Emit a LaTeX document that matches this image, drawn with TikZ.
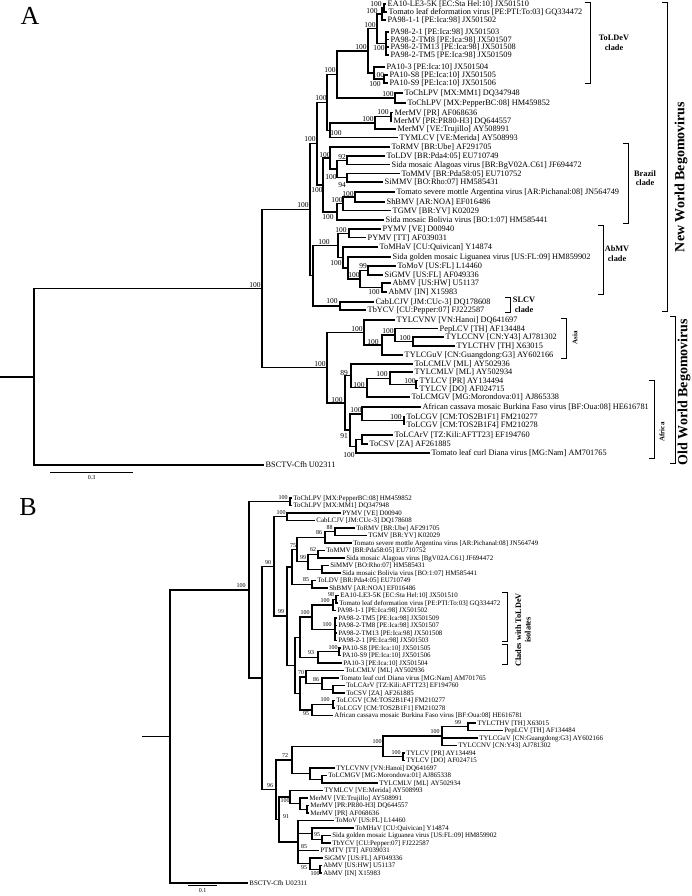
\documentclass[tikz,border=0pt]{standalone}
\usepackage{fontspec}
\setmainfont{Liberation Serif}
\usepackage{tikz}
\tikzset{
  brA/.style={line width=1.35pt, draw=black},
  brB/.style={line width=1.35pt, draw=black},
  tipA/.style={anchor=west, inner sep=1.5pt, font=\fontsize{8.3}{9}\selectfont,
               text height=5.5pt, text depth=0pt},
  tipB/.style={anchor=west, inner sep=1.2pt, font=\fontsize{6.9}{7.5}\selectfont,
               text height=4.6pt, text depth=0pt},
  bsA/.style={inner sep=0pt, font=\fontsize{7.5}{8}\selectfont},
  bsB/.style={inner sep=0pt, font=\fontsize{6}{6.5}\selectfont},
  brack/.style={line width=0.8pt},
  cladelbl/.style={align=center, inner sep=0pt, font=\bfseries\fontsize{8.3}{9.5}\selectfont},
  smalllbl/.style={rotate=90, inner sep=0pt, font=\bfseries\fontsize{7}{8}\selectfont},
  grouplbl/.style={rotate=90, inner sep=0pt, font=\bfseries\fontsize{14}{16}\selectfont},
  panel/.style={inner sep=0pt, font=\fontsize{26}{26}\selectfont},
  scl/.style={inner sep=0pt, font=\fontsize{6}{6}\selectfont},
}

\begin{document}
\begin{tikzpicture}[x=1pt, y=-1pt]
\useasboundingbox (0,0) rectangle (691,896);

\node[panel] (panA) at (30,15.5) {A};
\node[panel] (panB) at (28,507) {B};

% ---- tree A: leaves
\foreach \nm/\xx/\yy/\lbl in {
  ea10/386/4/EA10-LE3-5K [EC:Sta Hel:10] JX501510,
  tldv/387/12/Tomato leaf deformation virus [PE:PTI:To:03] GQ334472,
  pa9811/386/20/PA98-1-1 [PE:Ica:98] JX501502,
  pa9821/389/32/PA98-2-1 [PE:Ica:98] JX501503,
  tm8/389/39.5/PA98-2-TM8 [PE:Ica:98] JX501507,
  tm13/389/47/PA98-2-TM13 [PE:Ica:98] JX501508,
  tm5/389/55/PA98-2-TM5 [PE:Ica:98] JX501509,
  pa103/385/67/PA10-3 [PE:Ica:10] JX501504,
  s8/388/75/PA10-S8 [PE:Ica:10] JX501505,
  s9/388/83/PA10-S9 [PE:Ica:10] JX501506,
  chMM/403/93/ToChLPV [MX:MM1] DQ347948,
  chPB/406/103/ToChLPV [MX:PepperBC:08] HM459852,
  merPR/393/112.5/MerMV [PR] AF068636,
  merP8/392/121/MerMV [PR:PR80-H3] DQ644557,
  merVE/396/129/MerMV [VE:Trujillo] AY508991,
  tymlcv/398/137.5/TYMLCV [VE:Merida] AY508993,
  tormv/390/147/ToRMV [BR:Ube] AF291705,
  toldv/385/156/ToLDV [BR:Pda4:05] EU710749,
  simoav/390/164.5/Sida mosaic Alagoas virus [BR:BgV02A.C61] JF694472,
  tommv/400/173.5/ToMMV [BR:Pda58:05] EU710752,
  simmv/383/182/SiMMV [BO:Rho:07] HM585431,
  tsmav/395/192/Tomato severe mottle Argentina virus [AR:Pichanal:08] JN564749,
  shbmv/385/202/ShBMV [AR:NOA] EF016486,
  tgmv/391/210.5/TGMV [BR:YV] K02029,
  simbov/384/220/Sida mosaic Bolivia virus [BO:1:07] HM585441,
  pyVE/381/229/PYMV [VE] D00940,
  pyTT/366/237.5/PYMV [TT] AF039031,
  tomhav/378/247/ToMHaV [CU:Quivican] Y14874,
  sigmlv/391/257/Sida golden mosaic Liguanea virus [US:FL:09] HM859902,
  tomov/396/266/ToMoV [US:FL] L14460,
  sigmv/383/275/SiGMV [US:FL] AF049336,
  abHW/391/283/AbMV [US:HW] U51137,
  abIN/387/292/AbMV [IN] X15983,
  cab/374/302/CabLCJV [JM:CUc-3] DQ178608,
  tbycv/366/310/TbYCV [CU:Pepper:07] FJ222587,
  vnA/395/320/TYLCVNV [VN:Hanoi] DQ641697,
  pepA/438/328.5/PepLCV [TH] AF134484,
  cnA/444/337/TYLCCNV [CN:Y43] AJ781302,
  thA/455/346/TYLCTHV [TH] X63015,
  guA/403/355/TYLCGuV [CN:Guangdong:G3] AY602166,
  tolcmlvA/413/364/ToLCMLV [ML] AY502936,
  tylcmlvA/413/372/TYLCMLV [ML] AY502934,
  tyPR/418/380.5/TYLCV [PR] AY134494,
  tyDO/418/388.5/TYLCV [DO] AF024715,
  mgA/410/397/ToLCMGV [MG:Morondova:01] AJ865338,
  acmA/421/407/African cassava mosaic Burkina Faso virus [BF:Oua:08] HE616781,
  gv1A/405/417/ToLCGV [CM:TOS2B1F1] FM210277,
  gv4A/405/424.5/ToLCGV [CM:TOS2B1F4] FM210278,
  arA/393/435/ToLCArV [TZ:Kili:AFTT23] EF194760,
  csA/368/444/ToCSV [ZA] AF261885,
  diA/430/453/Tomato leaf curl Diana virus [MG:Nam] AM701765,
  bscA/264/465/BSCTV-Cfh U02311}
  \node[tipA] (\nm) at (\xx,\yy) {\lbl};

% ---- tree A: inner nodes
\foreach \nm/\xx/\yy in {
  stubA/0/376.85, rootA/34/376.85, ing/262/288.7, nw/310/209.65, u/317/143.6,
  v/327/102.3, ntc/337/74.4, c1/368/50.9, d1/377/28.75, nb/382/14, na/384/8,
  pa982/386/43.5, p10/374/73, p10a/384/79, toch/395/98, mt/330/130.2,
  mer/375/122.9, mpr/391/116.75, b0/323/184.95, b1/330/158, b2/337/169,
  b3/347/160.25, b4/347/177.75, s3/337/211.9, s2/343/203.75, s1/355/197,
  l/313/275.7, a0/338/245.4, pyn/349/233.25, a1/343/257.5, a2/348/268,
  a3/360/279, a4/368/270.5, a5/382/287.5, slcv/340/306, ow/327/367.7,
  asia/364/332.5, p/382/345, q/395/335, r/413/341.5, afr/345/402.95,
  a89/351/375.8, a100b/367/387.6, a100c/390/378.25, tyv/416/384.5,
  a91/350/430.1, g1/362/413.9, gv/404/420.75, g2/356/446.25, g3/362/439.5}
  \coordinate (\nm) at (\xx,\yy);

\draw[brA] (stubA) -- (rootA);
\foreach \pa/\ch in {
  rootA/ing, rootA/bscA, ing/nw, ing/ow, nw/u, nw/l, u/v, u/b0,
  v/ntc, v/mt, ntc/c1, ntc/toch, c1/d1, c1/p10, d1/nb, d1/pa982,
  nb/na, nb/pa9811, na/ea10, na/tldv,
  pa982/pa9821, pa982/tm8, pa982/tm13, pa982/tm5,
  p10/pa103, p10/p10a, p10a/s8, p10a/s9, toch/chMM, toch/chPB,
  mt/mer, mt/tymlcv, mer/mpr, mer/merVE, mpr/merPR, mpr/merP8,
  b0/b1, b0/s3, b1/tormv, b1/b2, b2/b3, b2/b4, b3/toldv, b3/simoav,
  b4/tommv, b4/simmv, s3/s2, s3/simbov, s2/s1, s2/tgmv, s1/tsmav, s1/shbmv,
  l/a0, l/slcv, a0/pyn, a0/a1, pyn/pyVE, pyn/pyTT, a1/tomhav, a1/a2,
  a2/sigmlv, a2/a3, a3/a4, a3/a5, a4/tomov, a4/sigmv, a5/abHW, a5/abIN,
  slcv/cab, slcv/tbycv,
  ow/asia, ow/afr, asia/vnA, asia/p, p/q, p/guA, q/pepA, q/r, r/cnA, r/thA,
  afr/a89, afr/a91, a89/tolcmlvA, a89/a100b, a100b/a100c, a100b/mgA,
  a100c/tylcmlvA, a100c/tyv, tyv/tyPR, tyv/tyDO,
  a91/g1, a91/g2, g1/acmA, g1/gv, gv/gv1A, gv/gv4A, g2/g3, g2/diA,
  g3/arA, g3/csA}
  \draw[brA] (\pa) |- (\ch);

% bootstrap values A
\foreach \nm/\xx/\yy/\lbl in {
  ing/255/285/100, nw/303/205.5/100, u/310/139.5/100, v/321/98.5/100,
  ntc/330/70.5/100, c1/361/47/100, d1/370/25/100, nb/372/11/100,
  na/376/4.5/100, pa982/379/48.5/100, p10a/378.5/75/100, p10/375/84.5/100,
  toch/388/94/100, mpr/383/112/100, mer/368/119/100, mt/336/133.5/100,
  b1/325/155/100, b2/331/177/100, b3/342/157/92, b4/342/185.5/94,
  b0/317/190/100, s1/348/194/100, s2/337/200/100, s3/328/217/100,
  pyn/341/230/100, a0/324/242/100, a1/336/263/100, a3/354/275.5/100,
  a4/363/266/99, a5/374/292/100, slcv/332/301/100,
  ow/320/364/100, asia/357/329/100, p/373/342/100, q/388/331/100,
  r/405/338/100, afr/337/400/100, a89/344/373/89, a100b/359/385/100,
  a100c/382/374.5/100, tyv/410/381/100, g1/356/410/100, gv/396/417/100,
  a91/344/436/91, g2/349/455/100}
  \node[bsA] (l\nm) at (\xx,\yy) {\lbl};

% clade brackets A
\draw[brack] (585,2) -- (590,2) -- (590,83) -- (585,83);
\node[cladelbl] (tldvclade) at (614,43) {ToLDeV\\clade};
\draw[brack] (623,143) -- (628,143) -- (628,223) -- (623,223);
\node[cladelbl] (brclade) at (645,178) {Brazil\\clade};
\draw[brack] (598,225) -- (603,225) -- (603,294) -- (598,294);
\node[cladelbl] (abclade) at (617,253.5) {AbMV\\clade};
\draw[brack] (505,297) -- (510,297) -- (510,312) -- (505,312);
\node[cladelbl] (slclade) at (524,305) {SLCV\\clade};
\draw[brack] (561,318) -- (566,318) -- (566,358) -- (561,358);
\node[smalllbl] (asiatxt) at (575,338) {Asia};
\draw[brack] (649,380) -- (654,380) -- (654,458) -- (649,458);
\node[smalllbl] (afrtxt) at (662,432) {Africa};
\draw[brack] (662,2) -- (667,2) -- (667,311) -- (662,311);
\node[grouplbl] (nwtxt) at (681,177) {New World Begomovirus};
\draw[brack] (670,316) -- (675,316) -- (675,463) -- (670,463);
\node[grouplbl] (owtxt) at (684,392) {Old World Begomovirus};

% scale A
\coordinate (sa1) at (50,472);
\coordinate (sa2) at (133,472);
\draw[line width=0.9pt] (sa1) -- (sa2);
\node[scl] (salbl) at (91.5,478) {0.3};

% ---- tree B: leaves
\foreach \nm/\xx/\yy/\lbl in {
  bchp/292/498/ToChLPV [MX:PepperBC:08] HM459852,
  bchm/292/505.5/ToChLPV [MX:MM1] DQ347948,
  bpy/341/513/PYMV [VE] D00940,
  bcab/315/520.5/CabLCJV [JM:CUc-3] DQ178608,
  brm/355/528/ToRMV [BR:Ube] AF291705,
  btg/367/535.5/TGMV [BR:YV] K02029,
  bts/352/543/Tomato severe mottle Argentina virus [AR:Pichanal:08] JN564749,
  bmm/325/550.5/ToMMV [BR:Pda58:05] EU710752,
  bsa/345/558/Sida mosaic Alagoas virus [BgV02A.C61] JF694472,
  bsm/329/565.5/SiMMV [BO:Rho:07] HM585431,
  bsb/341/573/Sida mosaic Bolivia virus [BO:1:07] HM585441,
  bld/316/580.5/ToLDV [BR:Pda4:05] EU710749,
  bsh/328/588/ShBMV [AR:NOA] EF016486,
  bea/339/595.5/EA10-LE3-5K [EC:Sta Hel:10] JX501510,
  btldv/338/603/Tomato leaf deformation virus [PE:PTI:To:03] GQ334472,
  b11/336/610.5/PA98-1-1 [PE:Ica:98] JX501502,
  bt5/337/618/PA98-2-TM5 [PE:Ica:98] JX501509,
  bt8/337/625.5/PA98-2-TM8 [PE:Ica:98] JX501507,
  bt13/337/633/PA98-2-TM13 [PE:Ica:98] JX501508,
  b21/337/640.5/PA98-2-1 [PE:Ica:98] JX501503,
  bs8/341/648/PA10-S8 [PE:Ica:10] JX501505,
  bs9/341/655.5/PA10-S9 [PE:Ica:10] JX501506,
  bp3/342/663/PA10-3 [PE:Ica:10] JX501504,
  bml/344/670.5/ToLCMLV [ML] AY502936,
  bdi/339/678/Tomato leaf curl Diana virus [MG:Nam] AM701765,
  bar/345/685.5/ToLCArV [TZ:Kili:AFTT23] EF194760,
  bcs/345/693/ToCSV [ZA] AF261885,
  bg4/335/700.5/ToLCGV [CM:TOS2B1F4] FM210277,
  bg1/335/708/ToLCGV [CM:TOS2B1F1] FM210278,
  bac/333/715.5/African cassava mosaic Burkina Faso virus [BF:Oua:08] HE616781,
  bth/476/723/TYLCTHV [TH] X63015,
  bpe/503/730.5/PepLCV [TH] AF134484,
  bgu/478/738/TYLCGuV [CN:Guangdong:G3] AY602166,
  bcn/457/745.5/TYLCCNV [CN:Y43] AJ781302,
  byp/405/753/TYLCV [PR] AY134494,
  byd/405/760.5/TYLCV [DO] AF024715,
  bvnv/335/768/TYLCVNV [VN:Hanoi] DQ641697,
  bmgv/327/775.5/ToLCMGV [MG:Morondova:01] AJ865338,
  bmlv/378/783/TYLCMLV [ML] AY502934,
  bty/323/790.5/TYMLCV [VE:Merida] AY508993,
  bve/308/798/MerMV [VE:Trujillo] AY508991,
  bp8/309/805.5/MerMV [PR:PR80-H3] DQ644557,
  bpr/309/813/MerMV [PR] AF068636,
  bmo/334/820.5/ToMoV [US:FL] L14460,
  bha/354/828/ToMHaV [CU:Quivican] Y14874,
  bsg/331/835.5/Sida golden mosaic Liguanea virus [US:FL:09] HM859902,
  bby/331/843/TbYCV [CU:Pepper:07] FJ222587,
  bpt/319/850.5/PTMTV [TT] AF039031,
  bsi/323/858/SiGMV [US:FL] AF049336,
  bhw/322/865.5/AbMV [US:HW] U51137,
  bin/322/873/AbMV [IN] X15983,
  bbs/248/883/BSCTV-Cfh U02311}
  \node[tipB] (\nm) at (\xx,\yy) {\lbl};

% ---- tree B: inner nodes
\foreach \nm/\xx/\yy in {
  BstubB/142/736.45, BrootB/170/736.45, BiB/249/589.9, BToch/290/501.75,
  Bj/262/678.1, Bk/274/566.4, BPC/287/516.75, Bm99/287/616.1, BBR/292/566.9,
  Bn75/297/549.6, Bn86/325/537.4, Bn88/335/531.75, Bn99b/308/561.75,
  Bn62/318/554.25, BnSi/322/569.25, Bn85/312/584.25, Btla/295/665.4,
  Bldv/300/637.25, Blc/312/617.1, Blb/333/604.9, Bla/336/599.25,
  Bpa982/335/629.25, Bp10/318/657.4, Bp10a/339/651.75, Bafr/300/693.5,
  Baf1/306/677.05, Bn86b/322/683.6, Barcs/333/689.25, Bn95c/312/709.9,
  Bgv/333/704.25, Bl96/276/789.8, Bn72/292/760, Bn100e/383/746.4,
  Bn100d/442/736.1, Bn99c/468/726.75, Btyv/403/756.75, Bvn/310/773.6,
  Bmg/322/779.25, Bn91/279/819.55, Bmg0/290/797.05, Bm1/300/803.6,
  Bmpr/307/809.25, Bn85b/298/842.05, Bx/312/833.6, Bn95a/322/839.25,
  Bn95b/310/863.6, Babp/320/869.25}
  \coordinate (\nm) at (\xx,\yy);

\draw[brB] (BstubB) -- (BrootB);
\foreach \pa/\ch in {
  BrootB/BiB, BrootB/bbs, BiB/BToch, BiB/Bj, BToch/bchp, BToch/bchm,
  Bj/Bk, Bj/Bl96, Bk/BPC, Bk/Bm99, BPC/bpy, BPC/bcab, Bm99/BBR, Bm99/Btla,
  BBR/Bn75, BBR/Bn85, Bn75/Bn86, Bn75/Bn99b, Bn86/Bn88, Bn86/bts,
  Bn88/brm, Bn88/btg, Bn99b/Bn62, Bn99b/BnSi, Bn62/bmm, Bn62/bsa,
  BnSi/bsm, BnSi/bsb, Bn85/bld, Bn85/bsh,
  Btla/Bldv, Btla/Bafr, Bldv/Blc, Bldv/Bp10, Blc/Blb, Blc/Bpa982,
  Blb/Bla, Blb/b11, Bla/bea, Bla/btldv,
  Bpa982/bt5, Bpa982/bt8, Bpa982/bt13, Bpa982/b21,
  Bp10/Bp10a, Bp10/bp3, Bp10a/bs8, Bp10a/bs9,
  Bafr/Baf1, Bafr/Bn95c, Baf1/bml, Baf1/Bn86b, Bn86b/bdi, Bn86b/Barcs,
  Barcs/bar, Barcs/bcs, Bn95c/Bgv, Bn95c/bac, Bgv/bg4, Bgv/bg1,
  Bl96/Bn72, Bl96/Bn91, Bn72/Bn100e, Bn72/Bvn, Bn100e/Bn100d, Bn100e/Btyv,
  Bn100d/Bn99c, Bn100d/bgu, Bn100d/bcn, Bn99c/bth, Bn99c/bpe,
  Btyv/byp, Btyv/byd, Bvn/bvnv, Bvn/Bmg, Bmg/bmgv, Bmg/bmlv,
  Bn91/Bmg0, Bn91/Bn85b, Bmg0/bty, Bmg0/Bm1, Bm1/bve, Bm1/Bmpr,
  Bmpr/bp8, Bmpr/bpr, Bn85b/bmo, Bn85b/Bx, Bn85b/bpt, Bn85b/Bn95b,
  Bx/bha, Bx/Bn95a, Bn95a/bsg, Bn95a/bby, Bn95b/bsi, Bn95b/Babp,
  Babp/bhw, Babp/bin}
  \draw[brB] (\pa) |- (\ch);

% bootstrap values B
\foreach \nm/\xx/\yy/\lbl in {
  iB/241/585.5/100, Toch/283/497.5/100, PC/281/512.5/100, k/268/562.5/90,
  m99/281/612/99, n75/293/545.5/75, n99b/303/557.5/99, n62/313/550/62,
  n86/319/533/86, n88/329.5/527.5/88, n85/306/580/85, la/331/594.5/98,
  lb/325/600.5/100, lc/305/612.5/100, pa982/327/624.5/100,
  p10a/333/647.5/100, p10/311/653/93, af1/301/673/70, n86b/316/679.5/86,
  gv/325/700/100, n95c/306/714/95, n99c/458/722.5/99, n100d/435/732/100,
  n100e/377/742/100, tyv/396/752.5/100, n72/285/756/72, l96/270/786/96,
  mg0/285/801/100, n91/286/817/91, n95a/317/835/95, n85b/304/847/85,
  n95b/304/868/95, abp/315/874/100}
  \node[bsB] (lB\nm) at (\xx,\yy) {\lbl};

% bracket B
\draw[brack] (502,592) -- (507,592) -- (507,641) -- (502,641);
\draw[brack] (502,644) -- (507,644) -- (507,664) -- (502,664);
\node[cladelbl, rotate=90] (tldviso) at (523,630) {Clades with ToLDeV\\isolates};

% scale B
\coordinate (sb1) at (188,885);
\coordinate (sb2) at (217,885);
\draw[line width=0.9pt] (sb1) -- (sb2);
\node[scl] (sblbl) at (202.5,891) {0.1};
\end{tikzpicture}
\end{document}
